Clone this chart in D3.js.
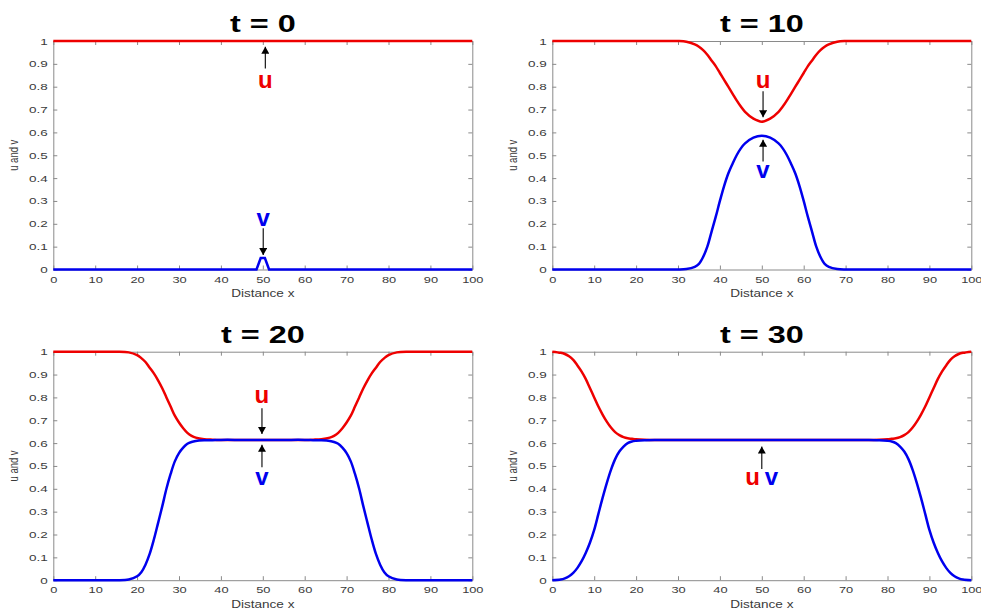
<!DOCTYPE html>
<html>
<head>
<meta charset="utf-8">
<script src="https://cdn.jsdelivr.net/npm/d3@7"></script>
<style>
  body { margin: 0; background: #fff; }
  svg { display: block; }
  text { font-family: "Liberation Sans", Arial, sans-serif; }
</style>
</head>
<body>
<svg id="chart" width="981" height="612"></svg>
<script>
// panel titles
var titles = ["t = 0", "t = 10", "t = 20", "t = 30"];
var xTicks = [0, 10, 20, 30, 40, 50, 60, 70, 80, 90, 100];
var yTicks = [0, 0.1, 0.2, 0.3, 0.4, 0.5, 0.6, 0.7, 0.8, 0.9, 1];

// t = 0
var x0 = [0, 48.5, 49.5, 50.5, 51.5, 100];
var u0 = [1, 1, 1, 1, 1, 1];
var v0 = [0, 0, 0.05, 0.05, 0, 0];

// t = 10
var x10 = [0, 10, 20, 28, 30, 32, 34, 35, 36, 37, 38, 39, 40, 41, 42, 43, 44, 45, 46, 48, 50,
           52, 54, 55, 56, 57, 58, 59, 60, 61, 62, 63, 64, 65, 66, 68, 70, 72, 80, 90, 100];
var u10 = [1, 1, 1, 1, 1, 0.997, 0.985, 0.975, 0.96, 0.94, 0.915, 0.89, 0.86, 0.83, 0.80, 0.77, 0.74, 0.713, 0.69, 0.66, 0.647,
           0.66, 0.69, 0.713, 0.74, 0.77, 0.80, 0.83, 0.86, 0.89, 0.915, 0.94, 0.96, 0.975, 0.985, 0.997, 1, 1, 1, 1, 1];
var v10 = [0, 0, 0, 0, 0, 0.002, 0.012, 0.025, 0.055, 0.10, 0.165, 0.23, 0.30, 0.365, 0.42, 0.462, 0.50, 0.53, 0.552, 0.577, 0.585,
           0.577, 0.552, 0.53, 0.50, 0.462, 0.42, 0.365, 0.30, 0.23, 0.165, 0.10, 0.055, 0.025, 0.012, 0.002, 0, 0, 0, 0, 0];

// t = 20
var x20 = [0, 5, 10, 15, 18, 20, 21, 22, 23, 24, 25, 26, 27, 28, 29, 30, 31, 32, 33, 34, 36, 38, 40, 45, 50,
           55, 60, 62, 64, 66, 67, 68, 69, 70, 71, 72, 73, 74, 75, 76, 77, 78, 79, 80, 82, 85, 90, 95, 100];
var u20 = [1, 1, 1, 1, 0.997, 0.985, 0.972, 0.955, 0.93, 0.905, 0.875, 0.84, 0.80, 0.76, 0.72, 0.69, 0.665, 0.645, 0.632, 0.624, 0.617, 0.615, 0.614, 0.614, 0.614,
           0.614, 0.614, 0.615, 0.617, 0.624, 0.632, 0.645, 0.665, 0.69, 0.72, 0.76, 0.80, 0.84, 0.875, 0.905, 0.93, 0.955, 0.972, 0.985, 0.997, 1, 1, 1, 1];
var v20 = [0, 0, 0, 0, 0.003, 0.017, 0.035, 0.068, 0.115, 0.178, 0.25, 0.323, 0.40, 0.465, 0.52, 0.556, 0.58, 0.597, 0.605, 0.609, 0.612, 0.613, 0.614, 0.614, 0.614,
           0.614, 0.614, 0.613, 0.612, 0.609, 0.605, 0.597, 0.58, 0.556, 0.52, 0.465, 0.40, 0.323, 0.25, 0.178, 0.115, 0.068, 0.035, 0.017, 0.003, 0, 0, 0, 0];

// t = 30
var x30 = [0, 2, 3, 4, 5, 6, 7, 8, 9, 10, 11, 12, 13, 14, 15, 16, 17, 18, 19, 20, 22, 25, 30, 40, 50,
           60, 70, 75, 78, 80, 81, 82, 83, 84, 85, 86, 87, 88, 89, 90, 91, 92, 93, 94, 95, 96, 97, 98, 100];
var u30 = [1, 0.995, 0.99, 0.98, 0.964, 0.94, 0.913, 0.88, 0.84, 0.80, 0.76, 0.725, 0.694, 0.668, 0.648, 0.635, 0.626, 0.621, 0.619, 0.617, 0.615, 0.614, 0.614, 0.614, 0.614,
           0.614, 0.614, 0.614, 0.615, 0.617, 0.619, 0.621, 0.626, 0.635, 0.648, 0.668, 0.694, 0.725, 0.76, 0.80, 0.84, 0.88, 0.913, 0.94, 0.964, 0.98, 0.99, 0.995, 1];
var v30 = [0, 0.003, 0.008, 0.017, 0.032, 0.054, 0.083, 0.12, 0.165, 0.22, 0.29, 0.36, 0.425, 0.483, 0.53, 0.563, 0.585, 0.60, 0.607, 0.61, 0.613, 0.614, 0.614, 0.614, 0.614,
           0.614, 0.614, 0.614, 0.613, 0.61, 0.607, 0.60, 0.585, 0.563, 0.53, 0.483, 0.425, 0.36, 0.29, 0.22, 0.165, 0.12, 0.083, 0.054, 0.032, 0.017, 0.008, 0.003, 0];

// annotation arrows: panel, x, tail value, tip value
var arrowPanel = [0, 0, 1, 1, 2, 2, 3];
var arrowX     = [50.6, 50.1, 50.3, 50.3, 49.8, 49.8, 50.0];
var arrowFrom  = [0.88, 0.18, 0.78, 0.473, 0.753, 0.494, 0.487];
var arrowTo    = [0.975, 0.063, 0.666, 0.568, 0.64, 0.593, 0.585];

// annotation labels: panel, text, x, baseline value
var labelPanel = [0, 0, 1, 1, 2, 2, 3, 3];
var labelText  = ["u", "v", "u", "v", "u", "v", "u", "v"];
var labelX     = [50.6, 50.1, 50.3, 50.3, 49.8, 49.8, 47.8, 52.3];
var labelY     = [0.794, 0.19, 0.794, 0.40, 0.776, 0.418, 0.418, 0.418];

var red = "#ee0000", blue = "#0000ee", axisColor = "#8a8a8a", tickTextColor = "#3a3a3a";
var plot_w = 419, plot_h = 228.5;
var lefts = [53.3, 552.3, 53.3, 552.3];
var tops = [41, 41, 351.7, 351.7];

var panels = [
    {x: x0, u: u0, v: v0, curve: d3.curveLinear},
    {x: x10, u: u10, v: v10, curve: d3.curveCatmullRom.alpha(0.5)},
    {x: x20, u: u20, v: v20, curve: d3.curveCatmullRom.alpha(0.5)},
    {x: x30, u: u30, v: v30, curve: d3.curveCatmullRom.alpha(0.5)}
];

var svg = d3.select("#chart");

svg.append("defs").append("marker")
    .attr("id", "head")
    .attr("markerUnits", "userSpaceOnUse")
    .attr("viewBox", "0 -4 7 8")
    .attr("refX", 7)
    .attr("refY", 0)
    .attr("markerWidth", 7)
    .attr("markerHeight", 8)
    .attr("orient", "auto")
    .append("path")
    .attr("d", "M0,-4L7,0L0,4Z")
    .attr("fill", "#000");

var x_scale = d3.scaleLinear().domain([0, 100]).range([0, plot_w]);
var y_scale = d3.scaleLinear().domain([0, 1]).range([plot_h, 0]);

function stretchText(sel, sx) {
    // keep the anchor where the axis put it, widen glyphs horizontally
    sel.selectAll(".tick text").each(function() {
        var t = d3.select(this);
        var tx = +t.attr("x") || 0, ty = +t.attr("y") || 0;
        t.attr("x", 0).attr("y", 0)
            .attr("transform", "translate(" + tx + "," + ty + ") scale(" + sx + ",1)");
    });
}

function styleAxis(g) {
    g.select(".domain").attr("stroke", axisColor).attr("stroke-width", 1);
    g.selectAll(".tick line").attr("stroke", axisColor);
    g.selectAll(".tick text").attr("fill", tickTextColor).style("font-size", "9.5px");
}

function drawPanel(i) {
    var p = panels[i];
    var g = svg.append("g").attr("transform", "translate(" + lefts[i] + "," + tops[i] + ")");

    var bottom = g.append("g").attr("transform", "translate(0," + plot_h + ")")
        .call(d3.axisBottom(x_scale).tickValues(xTicks).tickSize(-4).tickSizeOuter(0).tickPadding(6.5));
    var top = g.append("g")
        .call(d3.axisTop(x_scale).tickValues(xTicks).tickSize(-4).tickSizeOuter(0).tickFormat(""));
    var left = g.append("g")
        .call(d3.axisLeft(y_scale).tickValues(yTicks).tickSize(-4).tickSizeOuter(0).tickPadding(5.5).tickFormat(d3.format("")));
    var right = g.append("g").attr("transform", "translate(" + plot_w + ",0)")
        .call(d3.axisRight(y_scale).tickValues(yTicks).tickSize(-4).tickSizeOuter(0).tickFormat(""));
    [bottom, top, left, right].forEach(styleAxis);
    stretchText(bottom, 1.35);
    stretchText(left, 1.42);

    // x label
    g.append("text")
        .attr("transform", "translate(" + plot_w / 2 + "," + (plot_h + 27.3) + ") scale(1.33,1)")
        .attr("text-anchor", "middle")
        .attr("fill", tickTextColor)
        .style("font-size", "10.2px")
        .text("Distance x");

    // y label
    g.append("text")
        .attr("transform", "translate(-35," + plot_h / 2 + ") scale(1.33,1) rotate(-90)")
        .attr("text-anchor", "middle")
        .attr("fill", tickTextColor)
        .style("font-size", "9.5px")
        .text("u and v");

    // title
    g.append("text")
        .attr("transform", "translate(" + plot_w / 2 + ",-8.7) scale(1.38,1)")
        .attr("text-anchor", "middle")
        .attr("fill", "#000")
        .style("font-size", "23.5px")
        .style("font-weight", "bold")
        .text(titles[i]);

    var line_uv = d3.line()
        .x(function(d, j) { return x_scale(p.x[j]); })
        .y(function(d) { return y_scale(d); })
        .curve(p.curve);

    g.append("path").datum(p.u)
        .attr("d", line_uv)
        .attr("fill", "none")
        .attr("stroke", red)
        .attr("stroke-width", 2.5);
    g.append("path").datum(p.v)
        .attr("d", line_uv)
        .attr("fill", "none")
        .attr("stroke", blue)
        .attr("stroke-width", 2.5);

    for (var a = 0; a < arrowPanel.length; a++) {
        if (arrowPanel[a] != i) continue;
        g.append("line")
            .attr("x1", x_scale(arrowX[a])).attr("x2", x_scale(arrowX[a]))
            .attr("y1", y_scale(arrowFrom[a])).attr("y2", y_scale(arrowTo[a]))
            .attr("stroke", "#000")
            .attr("stroke-width", 1.1)
            .attr("marker-end", "url(#head)");
    }

    for (var k = 0; k < labelPanel.length; k++) {
        if (labelPanel[k] != i) continue;
        g.append("text")
            .attr("x", x_scale(labelX[k]))
            .attr("y", y_scale(labelY[k]))
            .attr("text-anchor", "middle")
            .attr("fill", labelText[k] == "u" ? red : blue)
            .style("font-size", "24px")
            .style("font-weight", "bold")
            .text(labelText[k]);
    }
}

for (var i = 0; i < panels.length; i++) drawPanel(i);
</script>
</body>
</html>
